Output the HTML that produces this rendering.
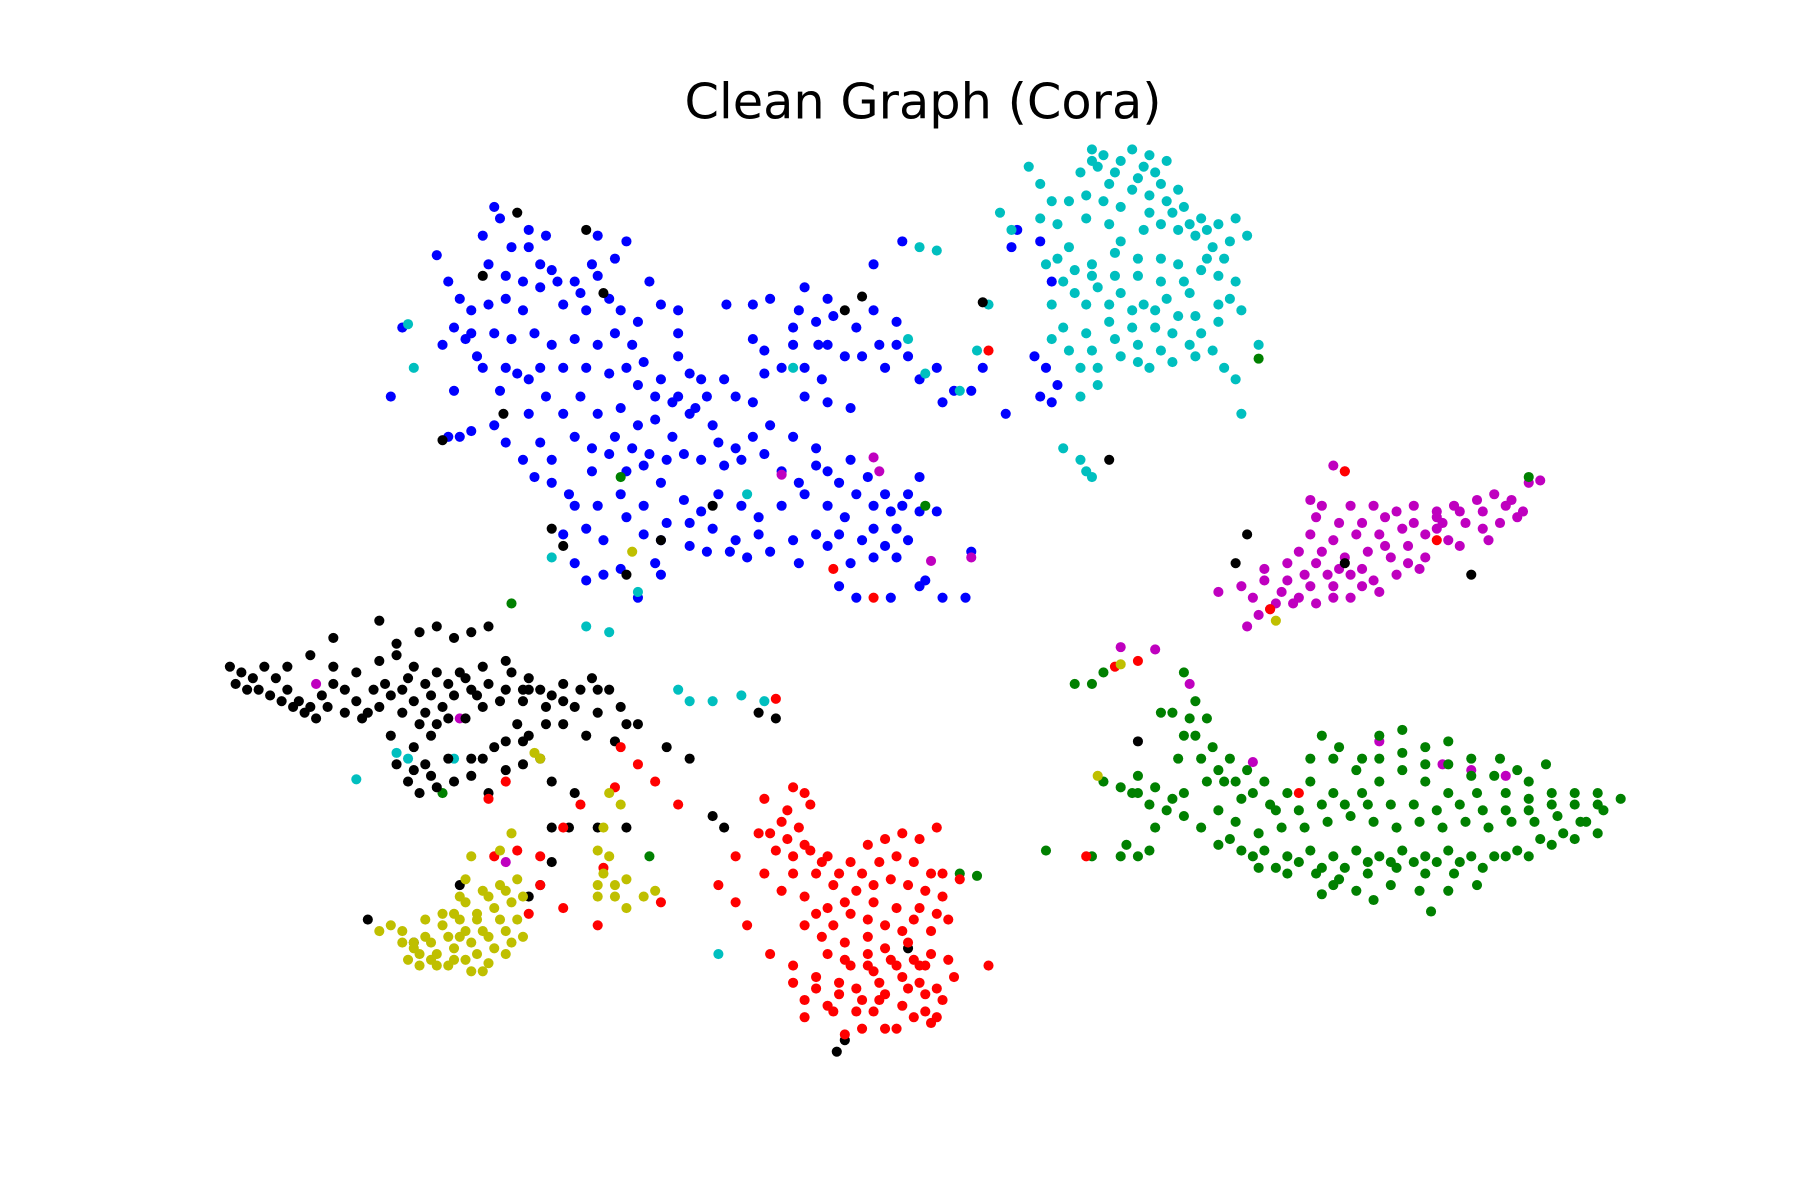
<!DOCTYPE html>
<html>
<head>
<meta charset="utf-8">
<style>
html,body{margin:0;padding:0;background:#fff;}
svg{display:block;}
</style>
</head>
<body>
<svg id="chart" width="1800" height="1200" viewBox="0 0 1566 1044" preserveAspectRatio="none" xmlns="http://www.w3.org/2000/svg">
<rect x="0" y="0" width="1566" height="1044" fill="#ffffff"/>
<text x="803" y="103" text-anchor="middle" font-family="DejaVu Sans, Liberation Sans, sans-serif" font-size="43" fill="#000">Clean Graph (Cora)</text>
<g id="plot"></g>
</svg>
<script>
const categories = ["class-blue","class-cyan","class-magenta","class-green","class-black","class-red","class-yellow"];
const blueX = [430,435,420,445,460,480,500,520,470,440,425,455,490,510,530,380,390,395,405,415,430,445,465,480,500,520,535,550,565,575,590,545,560,575,590,600,610,630,640,655,665,680,690,700,715,720,740,350,340,395,410,400,430,440,460,475,490,505,520,540,555,570,585,600,620,640,655,670,690,710,720,740,755,770,785,800,480,465,495,515,530,545,560,575,595,610,625,645,660,680,700,720,735,760,780,800,815,490,510,525,545,560,575,600,620,640,660,695,720,740,760,780,805,820,840,845,730,745,775,540,525,510,500,555,575,632,655,670,695,710,725,745,760,765,780,790,800,815,830,845,855,820,655,665,690,712,750,885,880,905,915,900,910,905,915,920,875,785,760,570,585,460,440,410,390,435,450,
425,440,455,470,485,505,515,535,545,520,400,410,385,420,470,490,510,530,555,570,590,615,605,625,610,630,645,665,680,695,710,730,745,760,775,790,500,515,535,550,565,580,595,470,455,480,500,520,540,560,580,600,615,635,650,670,690,710,730,750,770,790,800,720,735,770,780,700,590,555,540,460,475,700,720];
const blueY = [180,190,205,215,215,235,245,240,250,260,265,270,265,270,260,222,245,285,295,310,290,295,290,300,295,300,290,300,245,265,270,320,315,330,310,325,330,330,345,350,325,320,300,320,330,350,355,285,345,340,375,380,370,385,360,345,360,345,360,355,370,365,380,360,370,390,380,370,380,390,410,400,415,430,440,415,400,415,430,410,395,410,405,420,435,445,430,440,450,440,430,440,450,460,460,445,445,465,460,470,450,465,470,455,460,470,465,490,475,490,485,485,505,520,520,480,510,520,520,495,500,505,490,520,500,265,265,260,270,280,275,285,270,300,300,310,330,320,340,340,320,350,295,305,285,300,310,200,215,210,245,310,320,345,350,335,360,210,230,490,350,330,320,290,380,340,325,
230,240,245,230,245,255,230,225,210,205,260,270,300,320,320,320,320,325,335,345,345,345,355,385,400,405,400,395,410,420,405,420,430,440,445,430,380,390,380,390,395,400,395,385,400,420,440,440,430,440,455,475,480,480,485,480,470,465,465,470,475,470,510,300,310,320,280,345,290,280,270,200,205,250,260];
const cyanX = [950,960,975,985,995,1005,940,965,985,1000,1015,1030,1045,895,905,915,930,920,945,965,975,995,1010,1025,1040,1055,1075,1085,870,880,905,930,950,970,990,1010,1025,1045,1060,1075,1035,1015,995,975,955,935,915,925,945,965,985,1005,1020,1045,1060,915,930,950,970,990,1010,1035,1055,940,955,1065,1075,1095,1080,925,940,950,945,850,860,835,805,790,800,815,590,600,620,645,665,345,355,480,555,510,530,355,360,690,650,395,310,625,
955,970,990,1010,1025,945,960,975,1000,1020,1035,1050,1060,1070,1065,1050,1030,1010,990,970,950,935,920,910,925,945,965,985,1005,1025,1040,1060,990,975,955,940,1000,1020,1040,1070,1080,950,1015,1000];
const cyanY = [130,135,140,130,145,150,150,160,165,170,175,180,190,145,160,175,175,195,190,195,210,200,195,200,205,215,190,205,185,200,190,215,230,220,225,225,230,235,240,245,255,260,265,255,250,255,265,285,290,280,285,285,290,290,280,295,305,305,295,300,305,300,305,345,335,320,330,300,360,390,400,415,410,305,265,340,325,295,215,218,600,610,610,605,610,655,660,485,515,545,550,282,320,320,430,660,678,830,
145,150,155,160,165,170,175,180,185,185,195,200,195,210,225,225,245,245,240,240,240,235,225,230,245,265,265,270,270,275,275,265,315,310,320,320,320,315,310,260,270,140,140,135];
const magentaX = [1160,1170,1140,1150,1175,1195,1215,1230,1250,1265,1285,1300,1315,1330,1340,1275,1290,1305,1320,1260,1240,1220,1200,1180,1160,1140,1150,1170,1190,1210,1225,1240,1120,1135,1155,1175,1195,1215,1100,1115,1130,1145,1160,1090,1105,1125,1085,1080,1200,1185,1250,1270,1295,680,760,765,810,845,1090,1200,1255,1280,1310,975,1005,1035,1060,400,275,440,
1145,1165,1185,1205,1230,1250,1270,1290,1310,1325,1130,1145,1165,1185,1205,1225,1100,1120,1140,1160,1175,1110,1095,1235,1255];
const magentaY = [405,410,435,440,440,440,445,440,445,440,435,430,435,420,418,455,460,455,450,470,465,460,465,465,470,465,480,485,480,485,490,485,490,500,500,500,505,500,505,515,520,525,520,520,530,525,545,510,515,495,450,475,470,413,398,410,488,485,663,645,665,670,675,563,565,595,515,625,595,750,
450,455,455,450,455,460,445,445,440,445,480,490,495,510,475,475,495,505,510,510,520,525,535,495,455];
const greenX = [1030,1040,1050,1040,1055,1070,1085,1100,1010,1030,1065,1080,1105,1120,1140,1150,1165,1185,1200,1220,1240,1260,1280,1305,1345,1140,1160,1185,1200,1220,1240,1260,1285,1310,1330,1350,1370,1390,1410,960,975,990,1005,1020,1030,1045,1060,1075,1095,1115,1135,1155,1175,1195,1215,1235,1255,1275,1295,1315,1335,1355,1375,1395,1060,1080,1100,1120,1140,1160,1180,1200,1220,1240,1260,1280,1300,1320,1340,1360,1380,1095,1120,1145,1165,1190,1215,1240,1265,1285,1150,1195,1245,980,990,975,1000,950,910,935,950,960,985,1005,1030,835,850,540,445,805,385,565,1330,1095,
1045,1060,1075,1090,1110,1130,1150,1170,1190,1210,1230,1250,1270,1290,1310,1330,1350,1370,1390,1160,1180,1200,1220,1240,1260,1280,1300,1320,1330,1000,1015,990,1070,1090,1110,1130,1150,1170,1190,1210,1230,1250,1270,1290,1310,1330,1350,1370,1390,1160,1180,1210,1235,1260,1020,1035,1025,1050];
const greenY = [585,610,625,640,650,660,670,680,620,640,680,695,700,690,660,640,650,660,640,635,650,645,660,660,665,680,690,690,680,670,680,690,690,690,695,700,700,700,695,680,685,690,685,695,710,720,705,715,725,720,720,715,710,715,720,715,720,715,720,715,715,710,715,705,735,740,740,745,740,745,740,745,740,745,740,745,745,740,730,725,715,755,760,760,765,760,755,760,760,770,778,783,793,735,745,745,740,745,740,595,595,585,690,720,690,760,762,415,525,440,690,745,415,312,
660,670,680,690,705,705,700,700,700,700,700,705,700,705,705,705,690,690,690,660,670,660,655,665,665,675,675,670,680,700,705,675,730,745,755,750,755,755,750,750,750,750,750,755,745,745,735,730,725,770,775,770,775,775,620,625,660,680];
const blackX = [200,210,220,230,240,250,260,270,280,290,300,310,320,330,340,350,360,370,385,395,410,425,440,455,470,490,250,270,290,310,330,345,365,380,395,410,425,290,330,345,360,380,400,420,440,460,480,500,520,540,555,530,515,450,460,475,490,510,535,545,420,405,390,375,360,370,355,365,380,395,410,425,440,455,470,480,500,380,340,580,600,620,630,660,675,480,495,520,545,470,460,480,400,320,360,735,728,790,1280,1170,1075,1085,965,990,855,750,735,420,450,510,545,575,620,480,490,525,385,438,
205,215,225,235,245,255,265,275,285,300,315,325,335,355,370,390,405,415,435,445,455,475,490,505,520,350,365,375,360,375,390,410,430,440,455,420,345,460];
const blackY = [580,585,590,580,590,600,610,615,605,595,600,610,620,615,605,600,610,620,615,605,600,595,600,610,600,595,580,570,580,585,575,560,550,545,555,550,545,555,540,570,580,585,585,580,575,590,605,615,620,615,630,600,590,630,640,630,630,640,645,630,615,625,625,640,650,665,680,690,685,680,675,690,670,665,660,680,690,630,640,650,660,710,720,620,625,720,720,720,720,770,780,750,770,800,820,905,915,825,500,490,490,465,400,645,263,258,270,240,185,200,500,470,440,460,475,255,383,360,
595,600,600,605,610,615,620,625,615,620,625,600,595,590,595,595,590,605,610,585,600,615,610,600,600,620,630,605,670,675,660,660,650,645,645,660,665,600];
const redX = [690,700,665,680,695,660,675,690,705,720,740,755,770,785,800,815,665,690,710,725,745,760,775,790,805,820,835,680,700,720,740,760,780,795,810,825,700,715,735,755,770,790,810,825,670,690,710,730,745,765,785,800,815,830,700,720,745,765,785,805,820,750,770,700,860,810,780,735,740,755,640,625,640,650,540,555,570,590,425,440,430,450,470,490,470,490,520,575,505,535,525,460,725,760,860,1250,1170,1130,990,970,945,1105,675,
685,705,670,685,700,715,730,750,765,780,795,810,820,735,755,770,785,800,815,720,735,755,775,795,805,690,710,730,750,770,790,805,725,760,795,815,800,780,760,725,710];
const redY = [685,690,695,715,720,725,740,745,740,745,750,735,730,725,730,720,760,760,760,770,775,770,765,770,775,780,765,775,780,790,795,785,790,800,810,800,805,815,820,815,825,820,830,835,830,840,850,855,860,855,850,855,860,850,870,875,880,870,875,880,870,895,895,885,840,890,895,900,840,840,745,770,785,805,650,665,680,700,695,680,745,740,745,720,770,790,805,785,700,685,755,795,495,520,305,470,410,690,575,580,745,530,608,
705,700,725,730,735,750,760,760,750,745,750,760,760,785,800,805,810,790,795,830,835,830,835,835,840,855,860,865,870,865,860,865,880,880,885,885,840,840,845,805,795];
const yellowX = [330,340,350,360,370,385,400,415,430,445,455,365,380,395,410,425,440,455,365,380,395,410,425,440,415,405,420,435,450,395,520,530,525,535,545,560,570,525,540,530,520,470,465,410,435,445,405,550,955,975,1110,
350,360,375,390,405,420,435,450,370,385,400,415,430,445,375,390,405,420,400,425,440,355,535,545,520];
const yellowY = [810,805,810,820,815,805,800,795,790,785,780,830,830,825,820,815,810,815,840,840,835,845,838,830,800,785,775,770,765,795,740,745,760,770,765,780,775,720,700,690,780,660,655,745,740,725,765,480,675,578,540,
820,825,820,815,810,810,800,800,800,795,815,830,825,820,835,840,835,845,780,780,775,835,780,790,770];
const seriesColors = ["#0000ff","#00bfbf","#bf00bf","#008000","#000000","#ff0000","#bfbf00"];

const xDomain = [190, 1415], xRange = [190, 1415];
const yDomain = [120, 920], yRange = [120, 920];
function xScale(v){ return xRange[0] + (v - xDomain[0]) / (xDomain[1] - xDomain[0]) * (xRange[1] - xRange[0]); }
function yScale(v){ return yRange[0] + (v - yDomain[0]) / (yDomain[1] - yDomain[0]) * (yRange[1] - yRange[0]); }

const NS = "http://www.w3.org/2000/svg";
const plot = document.getElementById("plot");
const allSeries = [[blueX,blueY],[cyanX,cyanY],[magentaX,magentaY],[greenX,greenY],[blackX,blackY],[redX,redY],[yellowX,yellowY]];
allSeries.forEach(function(s, si){
  const g = document.createElementNS(NS, "g");
  
  
  g.setAttribute("fill", seriesColors[si]);
  const xs = s[0], ys = s[1];
  const n = Math.min(xs.length, ys.length);
  for (let i = 0; i < n; i++) {
    const c = document.createElementNS(NS, "circle");
    
    
    c.setAttribute("cx", xScale(xs[i]));
    c.setAttribute("cy", yScale(ys[i]));
    c.setAttribute("r", 4.4);
    g.appendChild(c);
  }
  plot.appendChild(g);
});
</script>
</body>
</html>
